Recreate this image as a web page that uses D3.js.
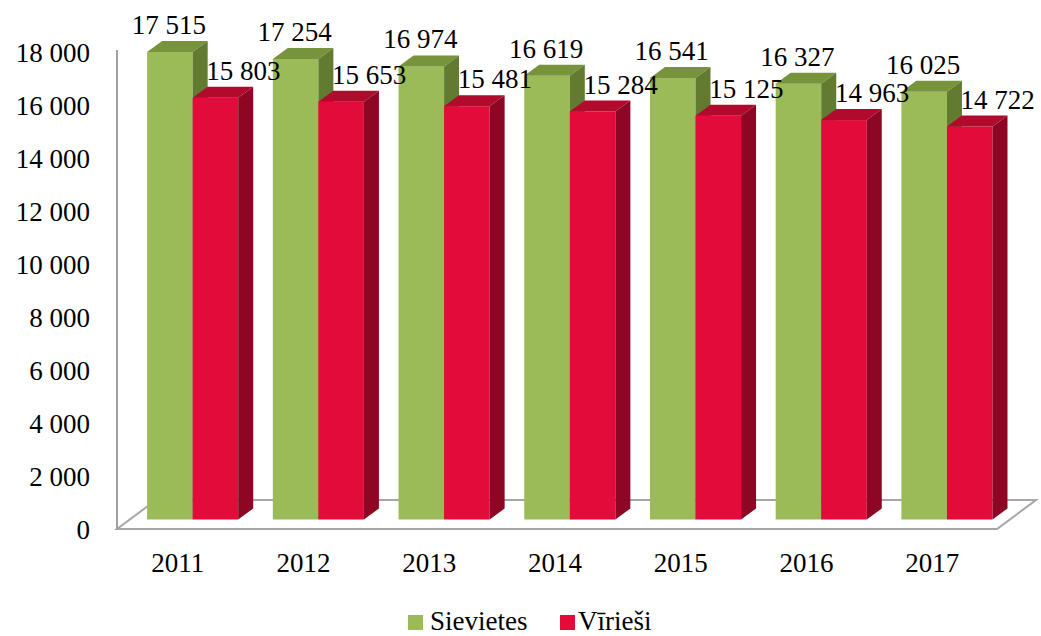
<!DOCTYPE html>
<html>
<head>
<meta charset="utf-8">
<script src="https://cdn.jsdelivr.net/npm/d3@7"></script>
<style>
  body { margin: 0; background: #fff; }
  svg text { font-family: "Liberation Serif", "Times New Roman", Tinos, "DejaVu Serif", serif; fill: #000; }
</style>
</head>
<body>
<svg width="1041" height="636"></svg>
<script>
// chart data
const years = ['2011', '2012', '2013', '2014', '2015', '2016', '2017']
const seriesNames = ['Sievietes', 'Vīrieši']
const women = [17515, 17254, 16974, 16619, 16541, 16327, 16025]
const men = [15803, 15653, 15481, 15284, 15125, 14963, 14722]
const yTicks = [0, 2000, 4000, 6000, 8000, 10000, 12000, 14000, 16000, 18000]

const colors = {
  Sievietes: {front: '#9bbb59', top: '#77933c', side: '#637a31'},
  'Vīrieši': {front: '#e30b3a', top: '#b00a2d', side: '#8d0725'}
}

const serif = '"Liberation Serif", "Times New Roman", Tinos, "DejaVu Serif", serif'
const fontSize = 27

const svg = d3.select('svg')

// floor geometry (front edge and depth offset of the 3d floor)
const floor = {left: 117, right: 997, y: 529, dx: 39, dy: -29}
// bars sit a third of the way into the floor, and are this deep
const barShift = {dx: 12.8, dy: -9.5}
const barDepth = {dx: 15, dy: -11}

const x0 = d3.scaleBand()
.domain(years)
.range([floor.left, floor.right])

const x1 = d3.scaleBand()
.domain(seriesNames)
.range([0, x0.bandwidth()])
.paddingOuter(0.38)

// scale for the bars themselves
const y = d3.scaleLinear()
.domain([0, 18000])
.range([floor.y + barShift.dy, floor.y + barShift.dy - 480.5])

// scale for the axis labels
const yLabel = d3.scaleLinear()
.domain([0, 18000])
.range([530, 53])

const fmt = d3.formatLocale({decimal: ',', thousands: ' ', grouping: [3], currency: ['', '']}).format(',')

// floor
const f = floor
svg
.append('path')
.attr('d', `M${f.left},${f.y}L${f.right},${f.y}L${f.right + f.dx},${f.y + f.dy}L${f.left + f.dx},${f.y + f.dy}Z`)
.attr('fill', 'none')
.attr('stroke', '#a6a6a6')
.attr('stroke-width', 2)

// vertical axis line
svg
.append('line')
.attr('x1', f.left)
.attr('x2', f.left)
.attr('y1', f.y)
.attr('y2', 50)
.attr('stroke', '#a0a0a0')
.attr('stroke-width', 2)

// y axis labels
svg
.append('g')
.attr('transform', 'translate(90,0)')
.call(d3.axisLeft(yLabel).tickValues(yTicks).tickFormat(fmt).tickSize(0).tickPadding(0))
.call(g => g.select('.domain').remove())
.attr('font-family', serif)
.attr('font-size', fontSize)
.selectAll('text')
.attr('fill', '#000')

// year labels
svg
.append('g')
.selectAll('text')
.data(years)
.enter()
.append('text')
.attr('x', d => x0(d) + x0.bandwidth() / 2 - 2)
.attr('y', 572)
.attr('text-anchor', 'middle')
.attr('font-size', fontSize)
.text(d => d)

// bar data
const bars = []
years.forEach((yr, i) => {
  bars.push({year: yr, series: 'Sievietes', value: women[i]})
  bars.push({year: yr, series: 'Vīrieši', value: men[i]})
})

const bx = d => x0(d.year) + x1(d.series) + barShift.dx

const barG = svg
.append('g')
.selectAll('g')
.data(bars)
.enter()
.append('g')

// front face
barG
.append('rect')
.attr('x', d => bx(d))
.attr('y', d => y(d.value))
.attr('width', x1.bandwidth())
.attr('height', d => y(0) - y(d.value))
.attr('fill', d => colors[d.series].front)

// top face
barG
.append('path')
.attr('d', d => {
  const l = bx(d), r = l + x1.bandwidth(), t = y(d.value)
  return `M${l},${t}L${l + barDepth.dx},${t + barDepth.dy}L${r + barDepth.dx},${t + barDepth.dy}L${r},${t}Z`
})
.attr('fill', d => colors[d.series].top)

// side face
barG
.append('path')
.attr('d', d => {
  const r = bx(d) + x1.bandwidth(), t = y(d.value), b = y(0)
  return `M${r},${t}L${r + barDepth.dx},${t + barDepth.dy}L${r + barDepth.dx},${b + barDepth.dy}L${r},${b}Z`
})
.attr('fill', d => colors[d.series].side)

// value labels
svg
.append('g')
.selectAll('text')
.data(bars)
.enter()
.append('text')
.attr('x', d => bx(d) + x1.bandwidth() / 2 + (d.series === 'Sievietes' ? -1 : 28))
.attr('y', d => y(d.value) + barDepth.dy - 7)
.attr('text-anchor', 'middle')
.attr('font-size', fontSize)
.text(d => fmt(d.value))

// legend
const legend = svg
.append('g')
.selectAll('g')
.data(seriesNames)
.enter()
.append('g')
.attr('transform', (d, i) => `translate(${[408, 560][i]}, 615)`)

legend
.append('rect')
.attr('width', 15)
.attr('height', 15)
.attr('fill', d => colors[d].front)

legend
.append('text')
.attr('x', d => d === 'Sievietes' ? 22 : 18)
.attr('y', 15)
.attr('font-size', fontSize)
.text(d => d)
</script>
</body>
</html>
